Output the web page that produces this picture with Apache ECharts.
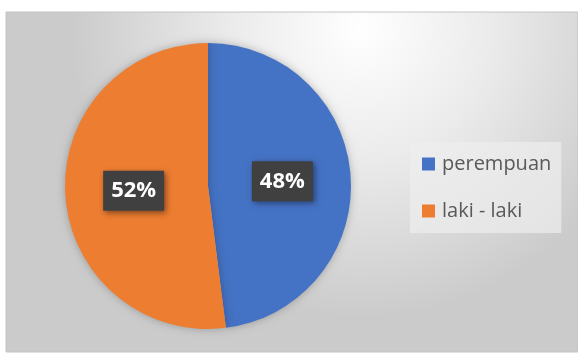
<!DOCTYPE html>
<html>
<head>
<meta charset="utf-8">
<script src="https://cdn.jsdelivr.net/npm/echarts@6/dist/echarts.min.js"></script>
<style>
html,body{margin:0;padding:0;background:#fff;}
#c{width:578px;height:354px;}
</style>
</head>
<body>
<div id="c"></div>
<script>
var categories = ['perempuan', 'laki - laki'];
var values = [48, 52];
var colors = ['#4472C4', '#ED7D31'];

var chart = echarts.init(document.getElementById('c'), null, {renderer: 'canvas'});
var option = {
  animation: false,
  backgroundColor: '#ffffff',
  graphic: [{
    type: 'rect',
    z: -10,
    silent: true,
    shape: {x: 6, y: 12, width: 572, height: 340},
    style: {
      fill: new echarts.graphic.RadialGradient(0.62, 0.05, 0.85, [
        {offset: 0, color: '#ffffff'},
        {offset: 0.45, color: '#ebebeb'},
        {offset: 1, color: '#cbcbcb'}
      ]),
      stroke: '#c4c4c4',
      lineWidth: 1
    }
  }],
  legend: {
    orient: 'vertical',
    left: 410,
    top: 142,
    padding: [11, 10, 11, 12],
    backgroundColor: 'rgba(238,238,238,0.7)',
    itemWidth: 13,
    itemHeight: 13,
    itemGap: 25,
    icon: 'rect',
    data: categories,
    textStyle: {fontFamily: 'Open Sans', fontSize: 20, lineHeight: 22, color: '#595959', padding: [0, 0, 0, 2]}
  },
  series: [{
    type: 'pie',
    center: [208, 186],
    radius: 143,
    startAngle: 90,
    clockwise: true,
    data: categories.map(function (n, i) {
      return {name: n, value: values[i], itemStyle: {color: colors[i]}};
    }),
    itemStyle: {
      shadowBlur: 8,
      shadowColor: 'rgba(0,0,0,0.25)'
    },
    label: {
      show: true,
      position: 'inside',
      formatter: '{d}%',
      fontFamily: 'Open Sans',
      fontWeight: 'bold',
      fontSize: 22,
      color: '#ffffff',
      backgroundColor: '#404040',
      padding: [10, 8, 8, 8],
      shadowBlur: 6,
      shadowColor: 'rgba(0,0,0,0.45)',
      shadowOffsetX: 2,
      shadowOffsetY: 2
    },
    labelLine: {show: false},
    emphasis: {disabled: true}
  }]
};
chart.setOption(option);
</script>
</body>
</html>
